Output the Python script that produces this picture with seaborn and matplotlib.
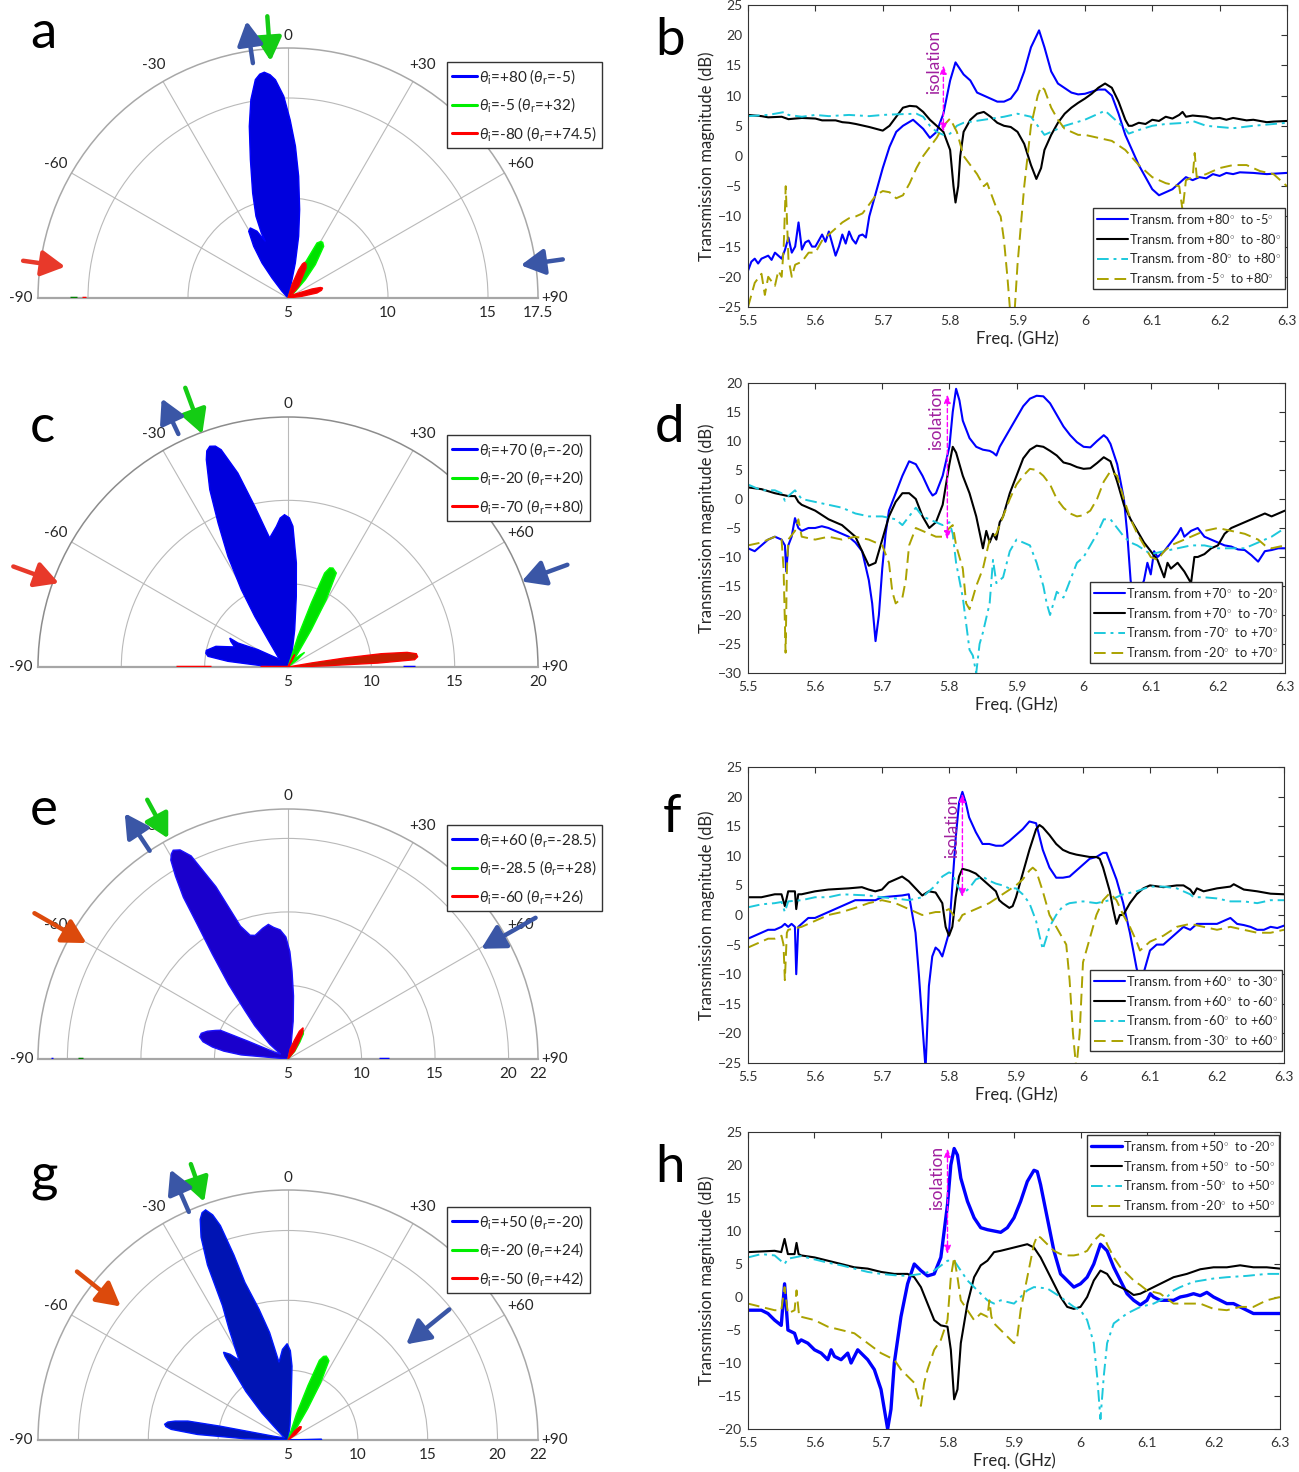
import numpy as np
import matplotlib
matplotlib.use("Agg")
import matplotlib.pyplot as plt
from matplotlib.lines import Line2D
import seaborn as sns

sns.set_theme(style="white")
plt.rcParams['font.family'] = ['Lato', 'DejaVu Sans']
plt.rcParams['mathtext.fontset'] = 'custom'
plt.rcParams['mathtext.rm'] = 'Lato'
plt.rcParams['mathtext.it'] = 'Lato:italic'

# ---------------- radiation patterns: outline points (angle deg, gain dB) ----------------
a_blue = [(-45, 5), (-42, 5.45), (-38.7, 6.28), (-36.6, 7.18), (-33.6, 8.1), (-30.5, 8.87),
          (-28.3, 8.98), (-24.9, 8.68), (-21.8, 8.05), (-22.3, 8.5), (-21.4, 9.39),
          (-18.6, 10.54), (-15.2, 12.17), (-12.7, 13.8), (-10.6, 15.09), (-8.5, 16.04),
          (-7.2, 16.28), (-6.0, 16.35), (-4.6, 16.2), (-3.3, 15.93), (-1.2, 15.09), (0.7, 13.9),
          (2.8, 12.6), (5.0, 11.11), (7.5, 9.46), (9.8, 8.13), (11.8, 6.79), (12.5, 5.77), (14, 5)]
a_green = [(15, 5), (20, 5.6), (23.2, 6.36), (26.4, 7.14), (27.8, 8.11), (30, 8.26), (31.9, 8.28),
           (34.6, 8.14), (39.3, 7.16), (43.4, 6.26), (48, 5.5), (55, 5)]
a_red = [(10, 5), (16.7, 5.7), (20.7, 6.5), (23, 6.85), (25, 6.97), (28, 6.92), (31, 6.75),
         (42.4, 5.79), (50, 5.2), (65, 5.59), (69.4, 6.28), (72, 6.7), (73.9, 6.8), (77, 6.72),
         (80.2, 6.47), (83, 5.7), (87, 5)]
a_marks = [(-90, 15.55, 15.9, 'green'), (-90, 15.1, 15.3, 'red')]

c_blue = [(-89, 5), (-87.2, 6.6), (-84.6, 8.62), (-82.4, 9.84), (-80.5, 10.0), (-78.5, 10.0),
          (-74, 9.5), (-69.4, 8.42), (-66, 8.75), (-63.6, 8.9), (-64.4, 8.33), (-60, 7.08),
          (-52, 5.9), (-48.7, 5.67), (-36.2, 7.03), (-33.3, 8.64), (-31.1, 10.42), (-28.5, 12.55),
          (-25.9, 14.6), (-23.8, 16.63), (-21.5, 18.37), (-20.6, 18.85), (-19.5, 19.05),
          (-18.2, 18.95), (-17.1, 18.64), (-14.5, 17.02), (-11.7, 14.85), (-8.1, 12.82),
          (-4.7, 13.47), (-3, 13.95), (-1.3, 14.14), (0.5, 13.95), (2.0, 13.45), (4.6, 11.26),
          (6.7, 9.27), (10.2, 7.27), (16, 5.87), (25, 5)]
c_green = [(14, 5), (18, 6.94), (20, 9.09), (21.3, 11.05), (22.8, 11.45), (24.4, 11.52),
           (27.2, 11.34), (29.6, 9.65), (32, 7.64), (35.5, 6.03), (40, 5.5), (45, 6.0),
           (48.6, 6.33), (52, 5.7), (58, 5)]
c_red = [(20, 5), (26, 5.7), (28.6, 5.84), (31, 5.6), (36, 5), (75, 5), (80.3, 6.42), (81, 8.44),
         (81.9, 10.66), (83, 12.2), (84.1, 12.74), (85.5, 12.8), (86.7, 12.61), (87.5, 10.4),
         (88.1, 7.4), (89.5, 5.5), (90, 5)]
c_marks = [(-90, 9.6, 11.7, 'red'), (-90, 5.0, 6.7, 'red'), (90, 11.9, 12.6, 'blue')]

e_blue = [(-88, 5), (-85, 8.2), (-83, 9.4), (-81, 10.2), (-78.5, 10.9), (-76, 11.2),
          (-73.5, 11.15), (-71, 10.8), (-68.5, 10.3), (-67, 10.0), (-66, 8.0), (-63, 6.0),
          (-57, 5.6), (-51, 6.6), (-45, 8.2), (-41.7, 9.4), (-38.5, 11.5), (-35.8, 13.8),
          (-34, 16.0), (-32.9, 18.1), (-31.6, 19.6), (-30.5, 20.7), (-29.6, 21.05), (-28.8, 21.2),
          (-27.3, 21.0), (-25.5, 20.3), (-22.7, 17.7), (-19.7, 14.6), (-17, 13.8), (-14.9, 13.7),
          (-11, 14.05), (-8.3, 14.25), (-6.2, 14.0), (-3.5, 13.8), (-1, 13.3), (1, 12.3),
          (2.6, 11.0), (5, 9.3), (7.8, 7.6), (12, 6.0), (25, 5)]
e_green = [(8, 5), (15, 5.7), (21, 6.4), (24.5, 7.0), (28, 7.2), (31.5, 7.0), (35, 6.4),
           (41, 5.7), (48, 5)]
e_red = [(5, 5), (12, 5.68), (19, 6.36), (22.3, 7.04), (25.8, 7.36), (29.3, 7.04), (32.6, 6.36),
         (39.6, 5.68), (45, 5)]
e_marks = [(-90, 18.97, 19.26, 'green'), (90, 11.2, 11.9, 'blue'), (-90, 21.0, 21.15, 'blue')]

g_blue = [(-89.5, 5), (-88.3, 8.1), (-86.5, 11.5), (-84.8, 13.4), (-83.7, 13.8), (-82.7, 13.9),
          (-81.5, 13.7), (-80.5, 13.2), (-79.3, 12.3), (-78.5, 10), (-78, 8.2), (-75, 6.0),
          (-60, 5.3), (-46, 6.4), (-44, 7.7), (-41, 9.6), (-37.8, 11.7), (-37, 12.5),
          (-36.3, 12.8), (-34, 12.4), (-31.5, 11.7), (-30.4, 12.3), (-28, 14.0), (-26, 15.7),
          (-24.7, 18.8), (-23.2, 20.8), (-21.7, 22.0), (-20.7, 22.4), (-19.7, 22.5),
          (-18.5, 22.0), (-17.5, 21.1), (-16.3, 18.8), (-15.3, 16.7), (-12.5, 14.6),
          (-9.7, 12.8), (-6.6, 10.6), (-3.5, 11.5), (-0.5, 11.9), (1.5, 11.4), (3.1, 10.3),
          (5.4, 7.2), (8, 6.0), (15, 5), (87, 5), (88.5, 7.4), (90, 7.4)]
g_green = [(14, 5), (18.1, 6.98), (20.1, 9.15), (21.5, 11.13), (23, 11.5), (24.5, 11.6),
           (26, 11.5), (27.3, 11.38), (29.7, 9.67), (32.1, 7.67), (35.5, 6.05), (42, 5)]
g_red = [(30, 5), (36, 5.8), (41, 6.25), (45, 6.35), (49, 6.2), (54, 5.7), (60, 5)]
g_marks = []

a_legend = [r'$\theta_{\rm i}$=+80 ($\theta_{\rm r}$=-5)', r'$\theta_{\rm i}$=-5 ($\theta_{\rm r}$=+32)',
            r'$\theta_{\rm i}$=-80 ($\theta_{\rm r}$=+74.5)']
c_legend = [r'$\theta_{\rm i}$=+70 ($\theta_{\rm r}$=-20)', r'$\theta_{\rm i}$=-20 ($\theta_{\rm r}$=+20)',
            r'$\theta_{\rm i}$=-70 ($\theta_{\rm r}$=+80)']
e_legend = [r'$\theta_{\rm i}$=+60 ($\theta_{\rm r}$=-28.5)', r'$\theta_{\rm i}$=-28.5 ($\theta_{\rm r}$=+28)',
            r'$\theta_{\rm i}$=-60 ($\theta_{\rm r}$=+26)']
g_legend = [r'$\theta_{\rm i}$=+50 ($\theta_{\rm r}$=-20)', r'$\theta_{\rm i}$=-20 ($\theta_{\rm r}$=+24)',
            r'$\theta_{\rm i}$=-50 ($\theta_{\rm r}$=+42)']

# ---------------- transmission spectra (GHz, dB) ----------------
b_blue = [(5.50, -19), (5.505, -17.5), (5.51, -17), (5.515, -17.8), (5.52, -17), (5.53, -16.5),
          (5.535, -17.2), (5.54, -16), (5.55, -17), (5.555, -15.5), (5.56, -13.5), (5.565, -16),
          (5.57, -15), (5.575, -11), (5.58, -15.5), (5.585, -14.3), (5.59, -14), (5.595, -15),
          (5.60, -15), (5.605, -14), (5.61, -13), (5.615, -14.2), (5.62, -12.5), (5.63, -16.5),
          (5.635, -15), (5.64, -13), (5.645, -14.5), (5.65, -12.5), (5.655, -13.8), (5.66, -14.5),
          (5.665, -13.2), (5.67, -13), (5.675, -13.5), (5.68, -10), (5.69, -6), (5.70, -2),
          (5.71, 1.5), (5.72, 4), (5.73, 5), (5.745, 6), (5.76, 4.5), (5.77, 3), (5.78, 4),
          (5.79, 7), (5.80, 12.5), (5.808, 15.5), (5.82, 13.5), (5.83, 12.5), (5.84, 10.5),
          (5.85, 10), (5.86, 9.5), (5.87, 9), (5.88, 9), (5.89, 9.5), (5.90, 11), (5.91, 14),
          (5.92, 18), (5.932, 20.8), (5.94, 18), (5.95, 14), (5.96, 12), (5.98, 10.5),
          (5.99, 10.2), (6.00, 10.3), (6.02, 11), (6.03, 11), (6.04, 10), (6.05, 7), (6.06, 3.5),
          (6.07, 1), (6.08, -1.5), (6.09, -3.5), (6.10, -5.5), (6.11, -6.5), (6.12, -6),
          (6.13, -5.5), (6.14, -4.5), (6.15, -3.5), (6.16, -4), (6.17, -3.5), (6.18, -3.7),
          (6.19, -3), (6.20, -3.3), (6.21, -2.8), (6.22, -3), (6.23, -2.7), (6.25, -2.8),
          (6.27, -3), (6.30, -2.8)]
b_black = [(5.50, 6.8), (5.52, 6.6), (5.53, 6.4), (5.55, 6.5), (5.56, 6.1), (5.58, 6.3),
           (5.60, 6.2), (5.61, 5.9), (5.63, 5.9), (5.64, 5.6), (5.65, 5.5), (5.66, 5.3),
           (5.68, 4.8), (5.70, 4.2), (5.71, 5.0), (5.72, 6.5), (5.73, 8.0), (5.74, 8.3),
           (5.75, 8.2), (5.76, 7.3), (5.77, 6.0), (5.78, 5.0), (5.79, 4.0), (5.80, 1.0),
           (5.805, -5), (5.808, -7.7), (5.812, -5), (5.815, 0), (5.82, 4), (5.83, 6), (5.84, 7),
           (5.85, 7.3), (5.86, 6.5), (5.87, 5.5), (5.88, 5), (5.89, 4.8), (5.90, 4), (5.91, 2),
           (5.92, -1.5), (5.928, -3.8), (5.935, -2), (5.94, 1), (5.95, 3.5), (5.96, 5.5),
           (5.97, 7), (5.98, 8), (5.99, 8.8), (6.00, 9.5), (6.01, 10.3), (6.02, 11.3),
           (6.03, 12.0), (6.04, 11.3), (6.05, 9), (6.06, 6), (6.065, 5.0), (6.07, 5), (6.08, 5.5),
           (6.09, 5.3), (6.10, 6), (6.11, 5.8), (6.12, 6.5), (6.13, 6.2), (6.14, 6.8),
           (6.145, 7.3), (6.15, 6.5), (6.16, 6.7), (6.18, 6.5), (6.19, 6.2), (6.20, 6.3),
           (6.21, 6.0), (6.22, 6.3), (6.24, 5.9), (6.25, 6), (6.27, 5.6), (6.28, 5.7), (6.30, 5.8)]
b_cyan = [(5.50, 6.6), (5.53, 6.8), (5.555, 7.3), (5.56, 6.8), (5.58, 6.5), (5.60, 6.8),
          (5.62, 6.6), (5.65, 6.8), (5.68, 6.6), (5.70, 6.8), (5.72, 6.9), (5.75, 7.0),
          (5.76, 6.5), (5.77, 5), (5.78, 4), (5.79, 3.5), (5.80, 3.7), (5.81, 5), (5.82, 5.5),
          (5.85, 6), (5.88, 6.5), (5.90, 7.0), (5.92, 6.5), (5.93, 5.0), (5.94, 3.5), (5.95, 4),
          (5.97, 5), (6.00, 6), (6.02, 7), (6.03, 7.5), (6.04, 6.5), (6.06, 4.5), (6.065, 3.7),
          (6.08, 4.3), (6.10, 5), (6.12, 5.3), (6.15, 5.5), (6.16, 5.8), (6.18, 5.0),
          (6.20, 4.8), (6.22, 4.6), (6.25, 5), (6.30, 5.5)]
b_olive = [(5.50, -25), (5.51, -21), (5.52, -19.5), (5.525, -23), (5.53, -20), (5.54, -21.5),
           (5.545, -19), (5.55, -20), (5.553, -15), (5.556, -5), (5.56, -17), (5.565, -20),
           (5.57, -18), (5.58, -17.5), (5.59, -16), (5.60, -16), (5.61, -14), (5.62, -13),
           (5.63, -12), (5.64, -11), (5.65, -10.3), (5.66, -10), (5.67, -9.5), (5.68, -8),
           (5.69, -6.5), (5.70, -5.8), (5.71, -6), (5.72, -7), (5.73, -6.5), (5.74, -4.5),
           (5.75, -2), (5.76, 0), (5.77, 1.5), (5.78, 3), (5.79, 5), (5.80, 6.2), (5.81, 4),
           (5.82, 0), (5.83, -1.5), (5.84, -3), (5.85, -5), (5.855, -4.5), (5.86, -6), (5.87, -9),
           (5.875, -10), (5.88, -14), (5.885, -20), (5.89, -27), (5.895, -27), (5.90, -18),
           (5.91, -5), (5.92, 5), (5.93, 10), (5.935, 11.5), (5.94, 11), (5.95, 8), (5.96, 6),
           (5.97, 4.5), (5.98, 4), (5.99, 3.5), (6.00, 3.5), (6.02, 3), (6.04, 2.5), (6.06, 1),
           (6.08, -1.5), (6.10, -3.5), (6.12, -4.5), (6.14, -5), (6.145, -9), (6.15, -4),
           (6.16, -3.5), (6.163, 0.5), (6.166, -3.5), (6.18, -3), (6.20, -2), (6.22, -1.5),
           (6.24, -1.5), (6.26, -2.5), (6.28, -3), (6.30, -5)]

d_blue = [(5.50, -8.5), (5.51, -9), (5.52, -8), (5.53, -7), (5.54, -6.5), (5.55, -7), (5.555, -8),
          (5.557, -12.5), (5.56, -8), (5.565, -6.5), (5.57, -3.3), (5.575, -5), (5.58, -5.5),
          (5.59, -5), (5.60, -5), (5.61, -4.7), (5.62, -5), (5.63, -5.5), (5.64, -6), (5.65, -6.5),
          (5.66, -7.5), (5.67, -9), (5.68, -14), (5.685, -18), (5.69, -24.5), (5.695, -20),
          (5.70, -12), (5.705, -6), (5.71, -2), (5.72, 1), (5.73, 4), (5.74, 6.5), (5.75, 6),
          (5.76, 4), (5.77, 1.5), (5.775, 0.6), (5.78, 1), (5.79, 4), (5.80, 9), (5.805, 15),
          (5.81, 19), (5.815, 17), (5.82, 13.5), (5.83, 10.5), (5.84, 9), (5.85, 8.5), (5.86, 8.3),
          (5.865, 8), (5.87, 7.5), (5.875, 9), (5.88, 10), (5.89, 12), (5.90, 14), (5.91, 16),
          (5.92, 17.3), (5.93, 17.8), (5.94, 17.7), (5.95, 16.5), (5.96, 14.5), (5.97, 12.5),
          (5.98, 11), (5.99, 9.8), (6.00, 9), (6.01, 8.9), (6.02, 10), (6.03, 11), (6.035, 10.5),
          (6.04, 9.5), (6.05, 6), (6.06, 0), (6.065, -6), (6.07, -14), (6.075, -18), (6.08, -17),
          (6.09, -14), (6.095, -11), (6.10, -13), (6.105, -9), (6.11, -10), (6.12, -9),
          (6.13, -7.5), (6.14, -6), (6.145, -5), (6.15, -6.5), (6.16, -5.5), (6.17, -5),
          (6.18, -6.5), (6.19, -7), (6.20, -7.5), (6.21, -8), (6.22, -8.2), (6.23, -8.7),
          (6.24, -8.8), (6.25, -9.7), (6.26, -10.8), (6.27, -9), (6.28, -8.8), (6.29, -8.5),
          (6.30, -8.5)]
d_black = [(5.50, 2), (5.52, 1.7), (5.54, 1), (5.56, 0.5), (5.57, 0.5), (5.575, -0.5), (5.58, -1),
           (5.60, -2), (5.62, -3.5), (5.64, -4.5), (5.65, -5.5), (5.66, -6.5), (5.67, -9),
           (5.68, -11.5), (5.69, -11), (5.70, -7), (5.71, -3), (5.72, -0.5), (5.73, 1), (5.74, 1),
           (5.75, 0), (5.76, -3), (5.77, -5), (5.78, -4), (5.79, -1), (5.80, 6), (5.805, 9),
           (5.81, 8), (5.82, 4), (5.83, 1), (5.84, -3), (5.85, -8.5), (5.855, -5.5), (5.86, -7.5),
           (5.865, -6), (5.87, -7), (5.875, -4), (5.88, -3), (5.89, 1), (5.90, 4), (5.91, 7),
           (5.92, 8.5), (5.93, 9.2), (5.94, 9), (5.95, 8.3), (5.96, 7.5), (5.97, 6.3), (5.98, 6),
           (5.99, 5.5), (6.00, 5.2), (6.01, 5.3), (6.02, 6.2), (6.03, 7.2), (6.04, 6.5), (6.05, 3),
           (6.06, -1), (6.07, -3.5), (6.08, -5.5), (6.09, -7.5), (6.10, -9), (6.11, -10.5),
           (6.12, -13.5), (6.125, -11), (6.13, -12), (6.14, -11), (6.15, -12.5), (6.16, -14.5),
           (6.165, -10), (6.17, -10), (6.18, -9.5), (6.19, -8.5), (6.20, -8), (6.21, -6),
           (6.22, -5), (6.23, -4.5), (6.24, -4), (6.25, -3.5), (6.26, -3), (6.27, -2.5),
           (6.28, -3), (6.29, -2.5), (6.30, -2)]
d_cyan = [(5.50, 2.5), (5.52, 1.5), (5.54, 1.5), (5.55, 1), (5.555, -0.3), (5.56, 0.5), (5.57, 1.5),
          (5.58, 0), (5.60, -0.5), (5.62, -1), (5.64, -1.5), (5.66, -2.5), (5.68, -3), (5.70, -3),
          (5.72, -3.5), (5.73, -4.5), (5.74, -3), (5.75, -1.5), (5.76, -3), (5.78, -4), (5.79, -4.5),
          (5.80, -4), (5.805, -6), (5.81, -11), (5.82, -17), (5.83, -26), (5.835, -27), (5.84, -30),
          (5.845, -25), (5.85, -23), (5.86, -18), (5.865, -10.5), (5.87, -14.5), (5.88, -13.5),
          (5.89, -9), (5.90, -7), (5.91, -7.5), (5.92, -8), (5.93, -11), (5.94, -15), (5.945, -18),
          (5.95, -20), (5.96, -16), (5.97, -17), (5.98, -14), (5.99, -11), (6.00, -10), (6.02, -6),
          (6.03, -3.5), (6.04, -3.5), (6.05, -5), (6.06, -6.5), (6.07, -7.5), (6.08, -8),
          (6.10, -9.5), (6.12, -9), (6.14, -8.5), (6.16, -8), (6.18, -8), (6.20, -8.5),
          (6.22, -8.5), (6.24, -8.5), (6.26, -7.5), (6.28, -6.5), (6.30, -5)]
d_olive = [(5.50, -8), (5.52, -7.5), (5.54, -6.5), (5.55, -7), (5.553, -12), (5.556, -26.5),
           (5.558, -12), (5.56, -7), (5.57, -5.5), (5.575, -3.5), (5.58, -6.5), (5.60, -7),
           (5.62, -6.5), (5.64, -7), (5.66, -6.5), (5.68, -7), (5.69, -7.5), (5.70, -8),
           (5.71, -11), (5.715, -16), (5.72, -18), (5.73, -17), (5.735, -14), (5.74, -8),
           (5.75, -5), (5.76, -5.5), (5.77, -6), (5.78, -6.5), (5.79, -6.5), (5.80, -5),
           (5.805, -4.5), (5.81, -8), (5.82, -12), (5.825, -18), (5.83, -19), (5.835, -17),
           (5.84, -15), (5.85, -12), (5.86, -7), (5.87, -6), (5.88, -3), (5.89, 0), (5.90, 2.5),
           (5.91, 4), (5.92, 5.2), (5.93, 5), (5.94, 4), (5.95, 2.5), (5.96, 0), (5.97, -1.5),
           (5.98, -2.5), (5.99, -3), (6.00, -2.8), (6.01, -2), (6.02, 0), (6.03, 3), (6.04, 4.8),
           (6.05, 4), (6.06, 0), (6.07, -3.5), (6.08, -6), (6.09, -8), (6.10, -10), (6.11, -10.5),
           (6.12, -9), (6.13, -8), (6.14, -7.5), (6.16, -6.5), (6.18, -5.5), (6.20, -5),
           (6.22, -5.5), (6.24, -6), (6.26, -7), (6.27, -8), (6.28, -8.5), (6.30, -8)]

f_blue = [(5.50, -4), (5.51, -3.5), (5.52, -3), (5.53, -2.5), (5.54, -2.5), (5.55, -2), (5.555, -1.5),
          (5.56, -2), (5.565, -1.5), (5.57, -2), (5.572, -10), (5.575, -2), (5.58, -1.5),
          (5.59, -0.5), (5.60, -0.5), (5.61, 0), (5.62, 0.5), (5.63, 1), (5.64, 1.5), (5.65, 2),
          (5.66, 2.5), (5.67, 2.5), (5.68, 2.5), (5.69, 2.5), (5.70, 3), (5.72, 3.2), (5.73, 3.3),
          (5.74, 3.5), (5.75, -3), (5.755, -10), (5.76, -18), (5.765, -26), (5.77, -12),
          (5.775, -7), (5.78, -5.5), (5.785, -6), (5.79, -7), (5.80, -3), (5.805, 5), (5.81, 13),
          (5.815, 19), (5.82, 20.8), (5.825, 19), (5.83, 16.5), (5.84, 14), (5.85, 12), (5.86, 12),
          (5.87, 11.7), (5.88, 11.7), (5.89, 12.5), (5.90, 13.5), (5.91, 14.5), (5.92, 15.8),
          (5.93, 15.5), (5.94, 11), (5.95, 8), (5.96, 6.3), (5.97, 6.3), (5.98, 6.5), (5.99, 7.5),
          (6.00, 8.5), (6.01, 9.5), (6.02, 9.8), (6.03, 10.5), (6.035, 10.5), (6.04, 9), (6.05, 6),
          (6.06, 2), (6.07, -3), (6.08, -9), (6.085, -11), (6.09, -10), (6.10, -6), (6.11, -5),
          (6.12, -5), (6.13, -4), (6.14, -3), (6.15, -2), (6.16, -2.5), (6.17, -1.5), (6.18, -1.5),
          (6.19, -1.5), (6.20, -1.5), (6.21, -1), (6.22, -0.5), (6.23, -1.5), (6.24, -1.7),
          (6.25, -2), (6.26, -2.5), (6.27, -2.5), (6.28, -2), (6.29, -2.2), (6.30, -1.8)]
f_black = [(5.50, 3), (5.52, 3), (5.54, 3.5), (5.55, 3.5), (5.555, 1.5), (5.56, 4), (5.565, 4),
           (5.57, 4), (5.572, 1), (5.575, 3.5), (5.58, 3.5), (5.60, 4), (5.62, 4.3), (5.65, 4.5),
           (5.67, 4.7), (5.68, 4.3), (5.69, 4), (5.70, 4.3), (5.71, 5.5), (5.72, 6), (5.73, 6.5),
           (5.74, 5.7), (5.75, 4.5), (5.76, 3.3), (5.77, 4), (5.78, 3.8), (5.79, 2), (5.795, -2),
           (5.80, -3.5), (5.805, -2), (5.81, 3), (5.815, 6.5), (5.82, 7.8), (5.83, 7.5), (5.84, 7),
           (5.85, 6), (5.86, 5), (5.87, 4), (5.875, 2.5), (5.88, 2), (5.89, 1.2), (5.895, 1.5),
           (5.90, 3), (5.91, 7), (5.92, 11), (5.93, 14.5), (5.935, 15.2), (5.94, 14.8),
           (5.95, 13.5), (5.96, 12), (5.97, 11), (5.98, 10.5), (5.99, 10.2), (6.00, 10),
           (6.01, 9.8), (6.02, 9.8), (6.025, 9.5), (6.03, 8), (6.04, 4), (6.045, 1), (6.05, -1.5),
           (6.055, 0), (6.06, 0), (6.07, 2), (6.08, 3.5), (6.09, 4.5), (6.10, 5), (6.12, 4.7),
           (6.14, 5), (6.15, 5), (6.16, 4.3), (6.165, 3.5), (6.17, 4.5), (6.18, 4), (6.20, 4.5),
           (6.22, 4.8), (6.225, 5.2), (6.24, 4.3), (6.26, 4), (6.28, 3.6), (6.30, 3.5)]
f_cyan = [(5.50, 1.3), (5.52, 1.8), (5.54, 2), (5.55, 2.2), (5.555, 0.5), (5.56, 2.3), (5.58, 2.5),
          (5.60, 3), (5.62, 3), (5.64, 3.5), (5.66, 3.4), (5.68, 3.3), (5.70, 3), (5.72, 2.8),
          (5.74, 2.5), (5.76, 3), (5.77, 4), (5.78, 5), (5.79, 6.5), (5.80, 7.2), (5.805, 7),
          (5.81, 5.5), (5.82, 3.5), (5.83, 4.5), (5.84, 6), (5.85, 6.5), (5.86, 5.8), (5.87, 5.3),
          (5.88, 5), (5.89, 4.5), (5.90, 4.5), (5.91, 3.5), (5.92, 2), (5.93, -1), (5.935, -3.5),
          (5.94, -5.8), (5.945, -4), (5.95, -2), (5.96, 0), (5.97, 1.5), (5.98, 2), (6.00, 2.3),
          (6.02, 2), (6.04, 2.5), (6.06, 3.5), (6.08, 4), (6.10, 4.8), (6.12, 4.8), (6.14, 4.5),
          (6.16, 3.5), (6.165, 3), (6.18, 3), (6.20, 2.8), (6.22, 2.3), (6.24, 2.3), (6.26, 2),
          (6.28, 2.5), (6.30, 2.5)]
f_olive = [(5.50, -5.5), (5.51, -5), (5.52, -4.5), (5.53, -4), (5.54, -4), (5.55, -3.5),
           (5.553, -5), (5.555, -11), (5.558, -3), (5.56, -2.5), (5.58, -2), (5.60, -1), (5.62, 0),
           (5.64, 0.5), (5.66, 1.2), (5.68, 2), (5.70, 2.5), (5.72, 2), (5.74, 1), (5.76, 0),
           (5.78, 0.5), (5.79, 0.5), (5.80, 1), (5.81, -0.5), (5.815, -1), (5.82, 0), (5.84, 1),
           (5.86, 2), (5.88, 3.5), (5.90, 5), (5.91, 6), (5.92, 7.5), (5.925, 8), (5.93, 7.5),
           (5.94, 4), (5.95, 0), (5.96, -2), (5.97, -4), (5.975, -5), (5.98, -11), (5.985, -20),
           (5.99, -26), (5.995, -20), (6.00, -8), (6.01, -4), (6.02, 0), (6.03, 2.5), (6.04, 3.7),
           (6.05, 2.5), (6.06, 0), (6.07, -2), (6.08, -4.5), (6.085, -6), (6.09, -5.5),
           (6.10, -4.5), (6.12, -3.5), (6.14, -2), (6.16, -1.5), (6.18, -2), (6.20, -2.5),
           (6.22, -2), (6.24, -2.5), (6.26, -3), (6.28, -3), (6.30, -2.5)]

h_blue = [(5.50, -2), (5.52, -2), (5.53, -2.5), (5.54, -3.5), (5.55, -4.3), (5.555, 2), (5.56, -5),
          (5.57, -5.5), (5.575, -7), (5.58, -6.5), (5.59, -7), (5.60, -8), (5.61, -8.5),
          (5.62, -9.5), (5.625, -8), (5.63, -9), (5.64, -9.5), (5.65, -8.5), (5.655, -10),
          (5.66, -9), (5.665, -8), (5.67, -8.5), (5.68, -9.5), (5.69, -11), (5.70, -14),
          (5.705, -17), (5.71, -20), (5.715, -17), (5.72, -10), (5.73, -3), (5.74, 2), (5.75, 5),
          (5.76, 4), (5.77, 3.2), (5.78, 3.5), (5.79, 6), (5.80, 14), (5.805, 20), (5.81, 22.5),
          (5.815, 21.5), (5.82, 18), (5.83, 14.5), (5.84, 12), (5.85, 10.5), (5.86, 10.2),
          (5.87, 10), (5.88, 9.8), (5.89, 10.5), (5.90, 12), (5.91, 14.5), (5.92, 17.5),
          (5.93, 19.2), (5.935, 19), (5.94, 17), (5.95, 12), (5.96, 7), (5.97, 3.5), (5.98, 2.5),
          (5.99, 1.5), (6.00, 2), (6.01, 3), (6.02, 5), (6.03, 8), (6.04, 7), (6.05, 4.5),
          (6.06, 2.5), (6.07, 0.5), (6.08, -0.5), (6.09, -1.2), (6.10, -0.5), (6.105, 0.5),
          (6.11, 0), (6.12, -0.5), (6.14, -0.5), (6.15, 0), (6.16, 0.2), (6.17, 0.5), (6.18, 0.2),
          (6.19, 0.7), (6.20, 0), (6.21, -0.5), (6.22, -1), (6.23, -1), (6.24, -1.5), (6.25, -2),
          (6.26, -2.5), (6.28, -2.5), (6.30, -2.5)]
h_black = [(5.50, 6.8), (5.54, 7), (5.55, 6.8), (5.555, 8.8), (5.56, 6.5), (5.57, 6.5),
           (5.573, 8.2), (5.576, 6.5), (5.58, 6.3), (5.60, 6), (5.62, 5.5), (5.64, 5), (5.66, 4.5),
           (5.68, 4.3), (5.70, 3.8), (5.72, 3.5), (5.74, 3.5), (5.75, 3), (5.76, 1.5), (5.77, -1),
           (5.78, -3.5), (5.79, -4.3), (5.80, -4.5), (5.805, -8), (5.81, -15.5), (5.815, -14),
           (5.82, -7), (5.83, -1), (5.84, 3), (5.85, 4.8), (5.86, 5.5), (5.87, 6.8), (5.88, 7),
           (5.90, 7.5), (5.92, 8), (5.93, 7.5), (5.94, 6), (5.95, 4), (5.96, 2), (5.97, 0),
           (5.98, -1.5), (5.99, -1.8), (6.00, -1.5), (6.01, 0), (6.02, 2.5), (6.03, 4), (6.04, 3.5),
           (6.05, 2), (6.06, 1.5), (6.07, 1), (6.08, 0.3), (6.09, 0.5), (6.10, 1), (6.12, 2),
           (6.14, 3), (6.16, 3.5), (6.18, 4.2), (6.20, 4.5), (6.22, 4.5), (6.24, 4.8), (6.26, 4.5),
           (6.28, 4.5), (6.30, 4.3)]
h_cyan = [(5.50, 6), (5.52, 6.5), (5.54, 6.3), (5.555, 5), (5.56, 5.8), (5.58, 6.2), (5.60, 5.7),
          (5.62, 5.2), (5.64, 4.8), (5.66, 4.3), (5.68, 3.8), (5.70, 3.5), (5.72, 3.3), (5.74, 3.2),
          (5.76, 3.5), (5.78, 4), (5.80, 5.5), (5.81, 5.5), (5.82, 4), (5.83, 2.5), (5.84, 1.5),
          (5.85, 0.5), (5.86, -0.5), (5.87, -1), (5.88, -0.5), (5.90, -1), (5.91, 0), (5.92, 1),
          (5.93, 1.5), (5.95, 1.3), (5.97, 0), (5.99, -1.5), (6.00, -2), (6.01, -3.5), (6.02, -7),
          (6.025, -12), (6.03, -18.5), (6.035, -12), (6.04, -7), (6.05, -4), (6.07, -2.5),
          (6.09, -1.5), (6.11, -1), (6.13, 0), (6.14, 1), (6.15, 1.5), (6.17, 2.3), (6.20, 2.8),
          (6.22, 3), (6.25, 3.2), (6.28, 3.5), (6.30, 3.5)]
h_olive = [(5.50, -1), (5.52, -1.5), (5.54, -2), (5.55, -2), (5.555, 1.5), (5.56, -2.5), (5.57, -2),
           (5.573, 1), (5.577, -3), (5.58, -3), (5.60, -3.5), (5.62, -4.5), (5.64, -5), (5.66, -5.5),
           (5.68, -7), (5.70, -8.5), (5.72, -9.5), (5.73, -11), (5.74, -12), (5.75, -13),
           (5.755, -15), (5.76, -16.5), (5.765, -13), (5.77, -11), (5.78, -8), (5.79, -6.5),
           (5.80, -3.5), (5.805, 3), (5.81, 6), (5.815, 3), (5.82, -0.5), (5.83, -2), (5.84, -3.5),
           (5.85, -2.5), (5.86, -3), (5.863, -0.5), (5.866, -3), (5.87, -4), (5.88, -5), (5.89, -6),
           (5.90, -7), (5.905, -6), (5.91, -2), (5.92, 3), (5.93, 8), (5.935, 9.3), (5.94, 9),
           (5.95, 8), (5.96, 7), (5.97, 6.5), (5.98, 6.3), (5.99, 6.3), (6.00, 6.5), (6.01, 7),
           (6.02, 8.5), (6.03, 9.5), (6.035, 9.3), (6.04, 8), (6.05, 6), (6.06, 4.5), (6.07, 3.5),
           (6.08, 2.5), (6.09, 1.8), (6.10, 1), (6.12, 0.5), (6.14, -1), (6.16, -1), (6.18, -1),
           (6.20, -1.8), (6.22, -2), (6.24, -1.5), (6.26, -1.5), (6.28, -0.5), (6.30, 0)]

b_labels = ['+80', '-5', '+80', '-80', '-80', '+80', '-5', '+80']
d_labels = ['+70', '-20', '+70', '-70', '-70', '+70', '-20', '+70']
f_labels = ['+60', '-30', '+60', '-60', '-60', '+60', '-30', '+60']
h_labels = ['+50', '-20', '+50', '-50', '-50', '+50', '-20', '+50']

freq_ticks = [5.5, 5.6, 5.7, 5.8, 5.9, 6.0, 6.1, 6.2, 6.3]
freq_ticklabels = ['5.5', '5.6', '5.7', '5.8', '5.9', '6', '6.1', '6.2', '6.3']

W, H = 1299, 1472
fig = plt.figure(figsize=(W / 100, H / 100), dpi=100)
TXT = '#262626'


def px_rect(left, top, right, bottom):
    return [left / W, 1 - bottom / H, (right - left) / W, (bottom - top) / H]


def polar_panel(cy, rmax, rings, radial_labels, lobes, marks, arrows, labels, leg_xy,
                outer_color):
    # polar axes keep a square box: the half disc sits in the middle of it
    ax = fig.add_axes(px_rect(38, cy - 375, 538, cy + 125), projection='polar')
    ax.set_theta_zero_location('N')
    ax.set_theta_direction(-1)
    ax.set_thetamin(-90)
    ax.set_thetamax(90)
    ax.set_rlim(5, rmax)
    ax.set_thetagrids([-90, -60, -30, 0, 30, 60, 90], labels=[''] * 7)
    ax.set_rgrids(rings, labels=[''] * len(rings))
    ax.grid(True, color='#b9b9b9', lw=0.8)
    ax.spines['polar'].set_color(outer_color)
    ax.spines['polar'].set_linewidth(1.1)
    for s in ('start', 'end'):
        ax.spines[s].set_color('#a6a6a6')
        ax.spines[s].set_linewidth(1.6)
    ax.tick_params(pad=0)
    span = rmax - 5

    for pts, face, edge in lobes:
        th, r = zip(*pts)
        ax.fill(np.deg2rad(th), r, facecolor=face, edgecolor=edge, lw=1.0, zorder=3)
    for th, r0, r1, col in marks:
        ax.plot(np.deg2rad([th, th]), [r0, r1], color=col, lw=2.5,
                solid_capstyle='butt', zorder=4)
    for th, f0, f1, col in arrows:
        ax.annotate('', xy=(np.deg2rad(th), 5 + f1 * span),
                    xytext=(np.deg2rad(th), 5 + f0 * span),
                    arrowprops=dict(arrowstyle='-|>,head_length=0.55,head_width=0.3',
                                    color=col, lw=3.2, mutation_scale=26,
                                    shrinkA=0, shrinkB=0),
                    annotation_clip=False, zorder=5)

    for ang, lab in [(-60, '-60'), (-30, '-30'), (0, '0'), (30, '+30'), (60, '+60')]:
        fr = 1.05 if ang == 0 else 1.075
        ax.text(np.deg2rad(ang), 5 + fr * span, lab, ha='center', va='center',
                fontsize=11, color=TXT)
    ax.text(np.deg2rad(-90), 5 + 1.02 * span, '-90', ha='right', va='center',
            fontsize=11, color=TXT)
    ax.text(np.deg2rad(90), 5 + 1.015 * span, '+90', ha='left', va='center',
            fontsize=11, color=TXT)
    for val, lab in radial_labels:
        ax.annotate(lab, xy=(np.pi / 2, val), xytext=(0, -11), textcoords='offset points',
                    ha='center', va='center', fontsize=11, color=TXT)
    ax.annotate('Gain(dB)', xy=(np.pi / 2, 5 + 1.1 * span), xytext=(0, -11),
                textcoords='offset points', ha='left', va='center', fontsize=11, color=TXT)

    handles = [Line2D([], [], color=c, lw=2.2) for c in ('#0000ff', '#00ee00', '#ff0000')]
    ax.legend(handles, labels, loc='upper left', bbox_to_anchor=(leg_xy[0] / W, 1 - leg_xy[1] / H),
              bbox_transform=fig.transFigure, fancybox=False, edgecolor='#333333',
              framealpha=1, fontsize=11, handlelength=1.6, handletextpad=0.15,
              borderpad=0.35, labelspacing=0.62, borderaxespad=0)
    return ax


def trans_panel(top, bottom, right, ylim, lines, labels, leg_xy, iso):
    ax = fig.add_axes(px_rect(748, top, right, bottom))
    styles = [('#0000ff', '-'), ('#000000', '-'), ('#1cc8dc', (0, (6, 2.5, 1.5, 2.5))),
              ('#aaa200', (0, (6, 3)))]
    for i, (pts, lw) in enumerate(lines):
        f, v = zip(*pts)
        col, ls = styles[i]
        lab = 'Transm. from ' + labels[2 * i] + r'$^{\circ}$  to ' + labels[2 * i + 1] + r'$^{\circ}$'
        sns.lineplot(x=list(f), y=list(v), ax=ax, color=col, linestyle=ls, lw=lw,
                     label=lab, sort=False)
    ax.set_xlim(5.5, 6.3)
    ax.set_ylim(*ylim)
    ax.set_xticks(freq_ticks)
    ax.set_xticklabels(freq_ticklabels)
    ax.set_yticks(np.arange(ylim[0], ylim[1] + 1, 5))
    ax.tick_params(direction='in', top=True, right=True, length=4, width=0.8,
                   labelsize=10, labelcolor='#333333', color='#333333')
    ax.tick_params(axis='x', pad=6)
    ax.tick_params(axis='y', pad=4)
    for s in ax.spines.values():
        s.set_color('#333333')
        s.set_linewidth(0.8)
    ax.set_xlabel('Freq. (GHz)', fontsize=12, color=TXT, labelpad=2)
    ax.set_ylabel('Transmission magnitude (dB)', fontsize=12, color=TXT, labelpad=2)
    ax.legend(loc='upper left', bbox_to_anchor=(leg_xy[0] / W, 1 - leg_xy[1] / H),
              bbox_transform=fig.transFigure, fancybox=False, edgecolor='#333333',
              framealpha=1, fontsize=9.2, handlelength=2.4, handletextpad=0.1,
              borderpad=0.3, labelspacing=0.45, borderaxespad=0)
    x, y0, y1, xt, yt = iso
    ax.annotate('', xy=(x, y1), xytext=(x, y0),
                arrowprops=dict(arrowstyle='<|-|>,head_length=0.5,head_width=0.2',
                                color='#ff00ff', lw=1.0, linestyle=(0, (3, 2)),
                                mutation_scale=10, shrinkA=0, shrinkB=0))
    ax.text(xt, yt, 'isolation', rotation=90, ha='center', va='center',
            color='#a0209f', fontsize=12.5)
    return ax


blue_arrow = '#3a56a6'
green_arrow = '#14cc14'

polar_panel(298, 17.5, [10, 15],
            [(5, '5'), (10, '10'), (15, '15'), (17.5, '17.5')],
            [(a_blue, '#0000dd', '#0000ff'), (a_green, '#00e000', '#00ff00'),
             (a_red, '#ee0000', '#ff0000')],
            a_marks,
            [(82, 1.11, 0.94, blue_arrow), (-82, 1.07, 0.90, '#e8392a'),
             (-4.2, 1.13, 0.95, green_arrow), (-8.5, 0.95, 1.12, blue_arrow)],
            a_legend, (447, 62), '#a8a8a8')

polar_panel(667, 20, [10, 15],
            [(5, '5'), (10, '10'), (15, '15'), (20, '20')],
            [(c_blue, '#0000dd', '#0000ff'), (c_green, '#00e000', '#00ff00'),
             (c_red, '#c41e00', '#ff0000')],
            c_marks,
            [(69.9, 1.19, 0.995, blue_arrow), (-69.9, 1.17, 0.976, '#e8392a'),
             (-20.2, 1.19, 0.993, green_arrow), (-25.2, 1.03, 1.187, blue_arrow)],
            c_legend, (447, 435), '#8c8c8c')

polar_panel(1059, 22, [10, 15, 20],
            [(5, '5'), (10, '10'), (15, '15'), (20, '20'), (22, '22')],
            [(e_blue, '#1a00cc', '#1a10ff'), (e_green, '#00e000', '#00ff00'),
             (e_red, '#ee0000', '#ff0000')],
            e_marks,
            [(60.3, 1.14, 0.89, blue_arrow), (-60.1, 1.17, 0.93, '#dc4a0c'),
             (-28.5, 1.18, 1.004, green_arrow), (-33.6, 1.0, 1.18, blue_arrow)],
            e_legend, (447, 825), '#a8a8a8')

polar_panel(1440, 22.9, [10, 15, 20],
            [(5, '5'), (10, '10'), (15, '15'), (20, '20'), (22.9, '22')],
            [(g_blue, '#0014b4', '#0018ff'), (g_green, '#00e000', '#00ff00'),
             (g_red, '#ee0000', '#ff0000')],
            g_marks,
            [(51, 0.83, 0.608, blue_arrow), (-51.4, 1.08, 0.856, '#dc4a0c'),
             (-19.4, 1.17, 1.01, green_arrow), (-23.5, 0.995, 1.18, blue_arrow)],
            g_legend, (447, 1207), '#a8a8a8')

trans_panel(5, 307, 1287, (-25, 25),
            [(b_blue, 1.5), (b_black, 1.5), (b_cyan, 1.4), (b_olive, 1.4)],
            b_labels, (1093, 208), (5.79, 4.0, 15.0, 5.776, 15.5))
trans_panel(383, 673, 1285, (-30, 20),
            [(d_blue, 1.5), (d_black, 1.5), (d_cyan, 1.4), (d_olive, 1.4)],
            d_labels, (1090, 582), (5.797, -7.0, 18.0, 5.78, 14.0))
trans_panel(767, 1063, 1284, (-25, 25),
            [(f_blue, 1.5), (f_black, 1.5), (f_cyan, 1.4), (f_olive, 1.4)],
            f_labels, (1090, 970), (5.82, 3.0, 20.5, 5.805, 15.0))
trans_panel(1132, 1429, 1280, (-20, 25),
            [(h_blue, 2.4), (h_black, 1.5), (h_cyan, 1.4), (h_olive, 1.4)],
            h_labels, (1087, 1135), (5.80, 6.5, 22.5, 5.785, 18.0))

for letter, x, y in [('a', 30, 48), ('b', 655, 55), ('c', 30, 442), ('d', 655, 442),
                     ('e', 30, 825), ('f', 663, 832), ('g', 30, 1190), ('h', 655, 1182)]:
    fig.text(x / W, 1 - y / H, letter, fontsize=38, color='black', ha='left', va='baseline')

fig.savefig('out.png', dpi=100)
